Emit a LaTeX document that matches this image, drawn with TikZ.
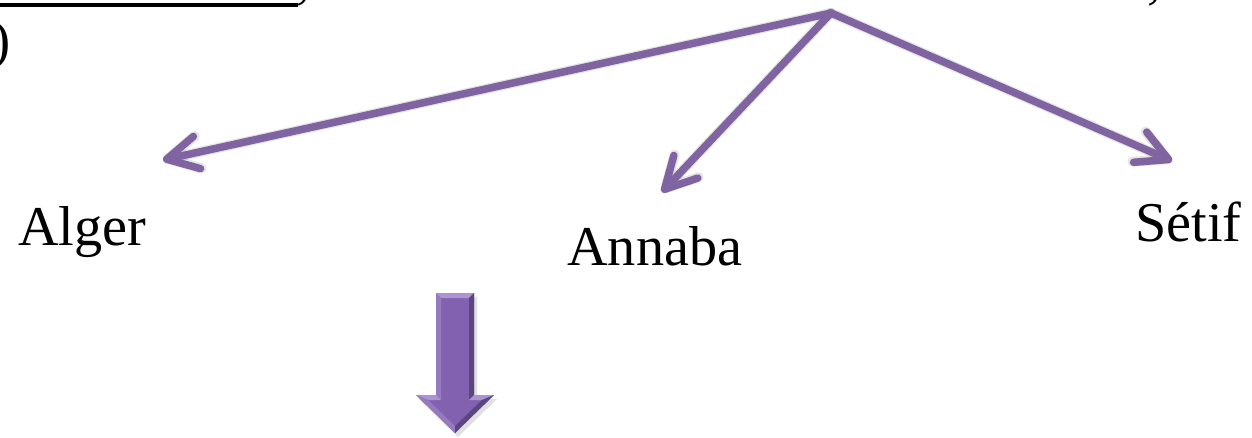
\documentclass[tikz,border=0pt]{standalone}
\usepackage{fontspec}
\setmainfont{Liberation Serif}
\usetikzlibrary{arrows.meta}
\definecolor{linkpurple}{RGB}{128,100,162}
\definecolor{facepurple}{RGB}{130,98,176}
\definecolor{lightpurple}{RGB}{172,148,208}
\definecolor{midpurple}{RGB}{150,122,192}
\definecolor{darkpurple}{RGB}{92,70,128}
\tikzset{>={Straight Barb[length=0.62cm, width=0.66cm, round]}}

\begin{document}
\begin{tikzpicture}[x=0.02cm, y=-0.02cm,
		link/.style={->, draw=linkpurple, line width=0.15cm, line cap=round},
		linkshadow/.style={->, draw=black, opacity=0.1, line width=0.2cm,
			line cap=round, shift={(2,4)}},
		city/.style={anchor=base west, inner sep=0pt,
			font=\fontsize{32}{38}\selectfont}]
		\useasboundingbox (0,0) rectangle (1252,437);

		\coordinate (src) at (831,13);
		\coordinate (algertip) at (163,160);
		\coordinate (annabatip) at (662,192);
		\coordinate (setiftip) at (1172,161);

		% text cut off at the top
		\draw[line width=0.08cm] (-5,5) -- (298,5);
		\node[anchor=base west, inner sep=0pt, font=\fontsize{32}{38}\selectfont]
			(commaA) at (296,-2.5) {,};
		\node[anchor=base west, inner sep=0pt, font=\fontsize{32}{38}\selectfont]
			(commaB) at (1147,-2.5) {,};
		\node[anchor=base east, inner sep=0pt, font=\fontsize{31}{36}\selectfont]
			(paren) at (11,58) {)};

		% the cities
		\node[city] (alger) at (18,245) {Alger};
		\node[city] (annaba) at (567,265) {Annaba};
		\node[city] (setif) at (1135,241) {Sétif};

		% the links
		\draw[linkshadow] (src) -- (algertip);
		\draw[linkshadow] (src) -- (annabatip);
		\draw[linkshadow] (src) -- (setiftip);
		\draw[link] (src) -- (algertip);
		\draw[link] (src) -- (annabatip);
		\draw[link] (src) -- (setiftip);

		% down arrow
		\fill[black, opacity=0.12, shift={(3,4)}] (436,293) -- (474,293) -- (474,395)
			-- (494,395) -- (455,433) -- (416,395) -- (436,395) -- cycle;
		\fill[facepurple] (436,293) -- (474,293) -- (474,395) -- (494,395)
			-- (455,433) -- (416,395) -- (436,395) -- cycle;
		\fill[lightpurple] (436,293) -- (474,293) -- (469,298) -- (441,298) -- cycle;
		\fill[midpurple] (436,293) -- (441,298) -- (441,400) -- (436,395) -- cycle;
		\fill[darkpurple] (474,293) -- (469,298) -- (469,400) -- (474,395) -- cycle;
		\fill[lightpurple] (416,395) -- (436,395) -- (441,400) -- (428,400) -- cycle;
		\fill[lightpurple] (494,395) -- (474,395) -- (469,400) -- (482,400) -- cycle;
		\fill[midpurple] (416,395) -- (428,400) -- (455,426) -- (455,433) -- cycle;
		\fill[darkpurple] (494,395) -- (482,400) -- (455,426) -- (455,433) -- cycle;
	\end{tikzpicture}
\end{document}
